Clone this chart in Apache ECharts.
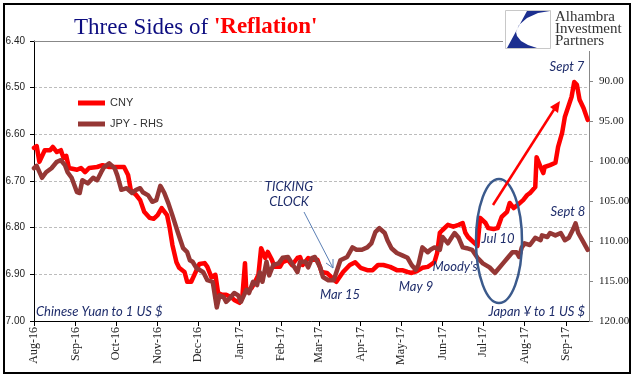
<!DOCTYPE html>
<html><head><meta charset="utf-8">
<script src="https://cdn.jsdelivr.net/npm/echarts@6/dist/echarts.min.js"></script>
<style>html,body{margin:0;padding:0;background:#fff}#c{width:641px;height:381px}</style>
</head><body><div id="c"></div>
<script>
const cnyDates = ['2016-08-01','2016-08-03','2016-08-05','2016-08-09','2016-08-13','2016-08-15','2016-08-18','2016-08-21','2016-08-23','2016-08-25','2016-08-27','2016-09-02','2016-09-05','2016-09-08','2016-09-11','2016-09-17','2016-09-21','2016-09-26','2016-10-02','2016-10-07','2016-10-10','2016-10-12','2016-10-16','2016-10-19','2016-10-22','2016-10-26','2016-10-29','2016-11-01','2016-11-04','2016-11-08','2016-11-10','2016-11-12','2016-11-15','2016-11-17','2016-11-21','2016-11-23','2016-11-26','2016-12-02','2016-12-06','2016-12-08','2016-12-11','2016-12-14','2016-12-16','2016-12-19','2016-12-22','2016-12-26','2016-12-28','2017-01-01','2017-01-03','2017-01-05','2017-01-06','2017-01-10','2017-01-12','2017-01-15','2017-01-17','2017-01-20','2017-01-22','2017-01-25','2017-01-27','2017-01-31','2017-02-02','2017-02-06','2017-02-09','2017-02-13','2017-02-15','2017-02-17','2017-02-21','2017-02-24','2017-02-28','2017-03-03','2017-03-07','2017-03-11','2017-03-14','2017-03-19','2017-03-24','2017-03-28','2017-04-01','2017-04-06','2017-04-10','2017-04-14','2017-04-18','2017-04-23','2017-04-28','2017-05-02','2017-05-06','2017-05-09','2017-05-13','2017-05-17','2017-05-21','2017-05-23','2017-05-26','2017-05-28','2017-05-30','2017-06-01','2017-06-05','2017-06-09','2017-06-13','2017-06-16','2017-06-18','2017-06-20','2017-06-24','2017-06-27','2017-06-29','2017-07-03','2017-07-05','2017-07-09','2017-07-12','2017-07-15','2017-07-19','2017-07-21','2017-07-24','2017-07-27','2017-07-31','2017-08-03','2017-08-05','2017-08-09','2017-08-10','2017-08-13','2017-08-15','2017-08-16','2017-08-20','2017-08-24','2017-08-26','2017-08-29','2017-08-31','2017-09-03','2017-09-05','2017-09-07','2017-09-09','2017-09-11','2017-09-14','2017-09-17'];
const cnyValues = [6.629,6.625,6.659,6.634,6.634,6.627,6.638,6.634,6.651,6.646,6.672,6.676,6.672,6.681,6.672,6.670,6.666,6.670,6.670,6.670,6.687,6.719,6.730,6.741,6.766,6.779,6.781,6.773,6.758,6.773,6.801,6.837,6.874,6.886,6.895,6.916,6.916,6.878,6.876,6.884,6.906,6.901,6.940,6.944,6.944,6.949,6.955,6.961,6.949,6.876,6.938,6.929,6.919,6.901,6.844,6.865,6.852,6.869,6.884,6.884,6.874,6.869,6.880,6.865,6.863,6.880,6.865,6.869,6.869,6.895,6.897,6.908,6.916,6.895,6.880,6.874,6.886,6.891,6.891,6.880,6.880,6.884,6.891,6.891,6.895,6.897,6.893,6.886,6.884,6.880,6.874,6.854,6.811,6.805,6.794,6.798,6.794,6.790,6.811,6.820,6.831,6.839,6.779,6.790,6.801,6.803,6.801,6.777,6.766,6.747,6.758,6.751,6.741,6.730,6.726,6.713,6.649,6.670,6.683,6.670,6.666,6.661,6.627,6.597,6.563,6.537,6.520,6.488,6.494,6.526,6.544,6.569];
const jpyDates = ['2016-08-01','2016-08-03','2016-08-07','2016-08-10','2016-08-14','2016-08-18','2016-08-21','2016-08-24','2016-08-26','2016-08-29','2016-09-02','2016-09-04','2016-09-06','2016-09-10','2016-09-14','2016-09-17','2016-09-20','2016-09-22','2016-09-26','2016-09-30','2016-10-02','2016-10-05','2016-10-09','2016-10-13','2016-10-16','2016-10-19','2016-10-21','2016-10-25','2016-10-28','2016-10-31','2016-11-03','2016-11-04','2016-11-06','2016-11-09','2016-11-12','2016-11-16','2016-11-20','2016-11-23','2016-11-25','2016-11-27','2016-11-30','2016-12-02','2016-12-05','2016-12-08','2016-12-12','2016-12-15','2016-12-17','2016-12-20','2016-12-22','2016-12-25','2016-12-28','2016-12-31','2017-01-02','2017-01-06','2017-01-08','2017-01-11','2017-01-14','2017-01-16','2017-01-18','2017-01-21','2017-01-23','2017-01-26','2017-01-30','2017-02-02','2017-02-06','2017-02-09','2017-02-13','2017-02-15','2017-02-19','2017-02-21','2017-02-24','2017-02-26','2017-03-02','2017-03-04','2017-03-08','2017-03-12','2017-03-14','2017-03-17','2017-03-22','2017-03-26','2017-03-29','2017-04-02','2017-04-06','2017-04-09','2017-04-12','2017-04-15','2017-04-19','2017-04-21','2017-04-24','2017-04-28','2017-05-02','2017-05-06','2017-05-09','2017-05-12','2017-05-14','2017-05-17','2017-05-21','2017-05-23','2017-05-26','2017-05-30','2017-06-01','2017-06-05','2017-06-08','2017-06-10','2017-06-13','2017-06-16','2017-06-19','2017-06-23','2017-06-27','2017-07-01','2017-07-06','2017-07-10','2017-07-12','2017-07-16','2017-07-20','2017-07-23','2017-07-26','2017-07-28','2017-07-30','2017-08-01','2017-08-05','2017-08-09','2017-08-13','2017-08-14','2017-08-18','2017-08-20','2017-08-24','2017-08-28','2017-08-31','2017-09-03','2017-09-06','2017-09-08','2017-09-10','2017-09-13','2017-09-17'];
const jpyValues = [100.9,100.6,102.1,101.4,100.9,100.1,99.9,100.5,101.4,102.1,103.9,104.0,102.4,102.8,102.1,102.4,101.4,100.8,100.3,100.9,101.8,103.6,103.4,104.0,103.6,103.4,103.9,104.3,105.1,104.9,103.1,103.4,104.0,105.3,106.8,108.9,110.9,111.4,112.4,112.6,113.4,113.6,113.9,114.9,115.1,118.3,116.8,117.0,117.6,117.1,116.5,116.8,117.6,116.1,116.5,115.1,115.5,113.9,115.1,112.6,114.3,113.0,112.8,112.1,112.0,112.8,113.9,112.6,112.6,113.3,112.1,112.0,113.3,114.5,114.9,114.9,113.9,112.4,112.0,110.8,111.1,111.1,110.8,110.3,108.9,108.4,109.0,109.9,110.9,111.5,111.8,112.1,113.0,113.6,113.0,110.8,111.4,111.1,110.8,111.1,109.5,110.3,109.5,109.0,109.6,110.8,110.9,111.1,112.1,112.8,113.3,114.0,113.6,112.8,112.0,111.4,111.4,112.0,110.8,110.3,110.5,109.6,109.9,109.3,109.5,109.0,109.3,109.0,109.9,109.6,108.6,107.8,109.0,109.9,111.1];
const monthNames = ['Jan','Feb','Mar','Apr','May','Jun','Jul','Aug','Sep','Oct','Nov','Dec'];
const seriesNames = ['CNY','JPY - RHS'];

const chart = echarts.init(document.getElementById('c'), null, {renderer:'canvas'});
const ann = '#1f2d6b';
const annFont = 'italic 13px Lato';
function txt(t, x, y, align, font, color){
  return {type:'text', z:100, style:{text:t, x:x, y:y, font:font||annFont, fill:color||ann, align:align||'center', textAlign:align||'center', verticalAlign:'middle', textVerticalAlign:'middle'}};
}
chart.setOption({
  animation:false,
  backgroundColor:'#fff',
  title:{left:69, top:11, text:"{a|Three Sides of }{b|'Reflation'}",
    textStyle:{fontWeight:'normal', rich:{a:{fontFamily:'Liberation Serif', fontSize:23, fontWeight:'normal', color:'#0d0d80'}, b:{fontFamily:'Liberation Serif', fontSize:23, fontWeight:'bold', color:'#ff0000'}}}},
  legend:{left:73, top:92, orient:'vertical', itemGap:9, icon:'rect', itemWidth:27, itemHeight:5,
    data:seriesNames, textStyle:{fontFamily:'Liberation Sans', fontSize:11, color:'#333', lineHeight:12}},
  grid:{left:34, right:52, top:41, bottom:60, containLabel:false, outerBoundsMode:'none'},
  xAxis:{type:'time', min:'2016-08-01', max:'2017-09-18', splitNumber:14,
    axisLine:{lineStyle:{color:'#000', width:1}},
    axisTick:{show:true, length:5, lineStyle:{color:'#000'}},
    splitLine:{show:false},
    axisLabel:{rotate:90, margin:6, fontFamily:'Liberation Serif', fontSize:12, color:'#222',
      formatter:function(v){const d=new Date(v); return monthNames[d.getMonth()]+'-'+String(d.getFullYear()).slice(2);}}},
  yAxis:[
    {type:'value', inverse:true, min:6.4, max:7.0, interval:0.1, position:'left',
      axisLine:{show:true, lineStyle:{color:'#000'}},
      axisTick:{show:true, length:4, lineStyle:{color:'#000'}},
      axisLabel:{margin:9, fontFamily:'Liberation Sans', fontSize:10, color:'#222', formatter:v=>v.toFixed(2)},
      splitLine:{show:true, lineStyle:{color:'#bcbcbc', type:[3,2], width:1}}},
    {type:'value', inverse:true, min:85, max:120, interval:5, position:'right',
      axisLine:{show:true, lineStyle:{color:'#888'}},
      axisTick:{show:true, length:4, lineStyle:{color:'#888'}},
      axisLabel:{margin:10, fontFamily:'Liberation Serif', fontSize:11, color:'#222', formatter:v=>v===85?'':v.toFixed(2)},
      splitLine:{show:false}}
  ],
  series:[
    {name:seriesNames[0], type:'line', yAxisIndex:0, showSymbol:false, symbol:'none', color:'#ff0000',
      lineStyle:{width:4.5, color:'#ff0000', join:'round', cap:'round'},
      data:cnyDates.map((d,i)=>[d, cnyValues[i]])},
    {name:seriesNames[1], type:'line', yAxisIndex:1, showSymbol:false, symbol:'none', color:'#953735',
      lineStyle:{width:4.5, color:'#953735', join:'round', cap:'round'},
      data:jpyDates.map((d,i)=>[d, jpyValues[i]])}
  ],
  graphic:[
    {type:'line', z:90, shape:{x1:34, y1:41.5, x2:505, y2:41.5}, style:{stroke:'#888', lineWidth:1}},
    {type:'rect', z:95, shape:{x:503, y:6, width:125, height:45}, style:{fill:'#fff', stroke:null}},
    {type:'rect', z:96, shape:{x:505.5, y:10.5, width:45, height:38}, style:{fill:'#fff', stroke:'#c8c8c8', lineWidth:1}},
    {type:'polygon', z:97, shape:{points:[[527,11],[507,48],[537,48],[528,45],[521,41],[517,36],[516,32],[519,25],[527,18],[538,13],[550,11]]}, style:{fill:'#1c2f8f'}},
    txt('Alhambra', 555, 17, 'left', '15px Liberation Serif', '#333'),
    txt('Investment', 555, 29, 'left', '15px Liberation Serif', '#333'),
    txt('Partners', 555, 41, 'left', '15px Liberation Serif', '#333'),
    {type:'rect', z:100, shape:{x:4, y:4, width:626, height:369}, style:{fill:null, stroke:'#000', lineWidth:2}},
    {type:'ellipse', z:99, shape:{cx:499, cy:241, rx:23, ry:62}, style:{fill:null, stroke:'#3b5a8c', lineWidth:2.5}},
    {type:'line', z:99, shape:{x1:493, y1:205, x2:555, y2:108}, style:{stroke:'#ff0000', lineWidth:2.5}},
    {type:'polygon', z:99, shape:{points:[[560,101],[558,113],[550,107]]}, style:{fill:'#ff0000'}},
    {type:'line', z:99, shape:{x1:304, y1:212, x2:333, y2:268}, style:{stroke:'#5b7fb5', lineWidth:1}},
    {type:'polyline', z:99, shape:{points:[[326,263],[333,268],[333,259]]}, style:{stroke:'#5b7fb5', lineWidth:1, fill:null}},
    txt('Sept 7', 567, 67),
    txt('Sept 8', 568, 212),
    txt('Jul 10', 498, 239),
    txt('TICKING', 289, 187),
    txt('CLOCK', 289, 202),
    txt('Mar 15', 340, 295),
    txt('May 9', 416, 287),
    txt("Moody's", 455, 267),
    txt('Chinese Yuan to 1 US $', 36, 312, 'left'),
    txt('Japan ¥ to 1 US $', 585, 312, 'right')
  ]
});
</script></body></html>
